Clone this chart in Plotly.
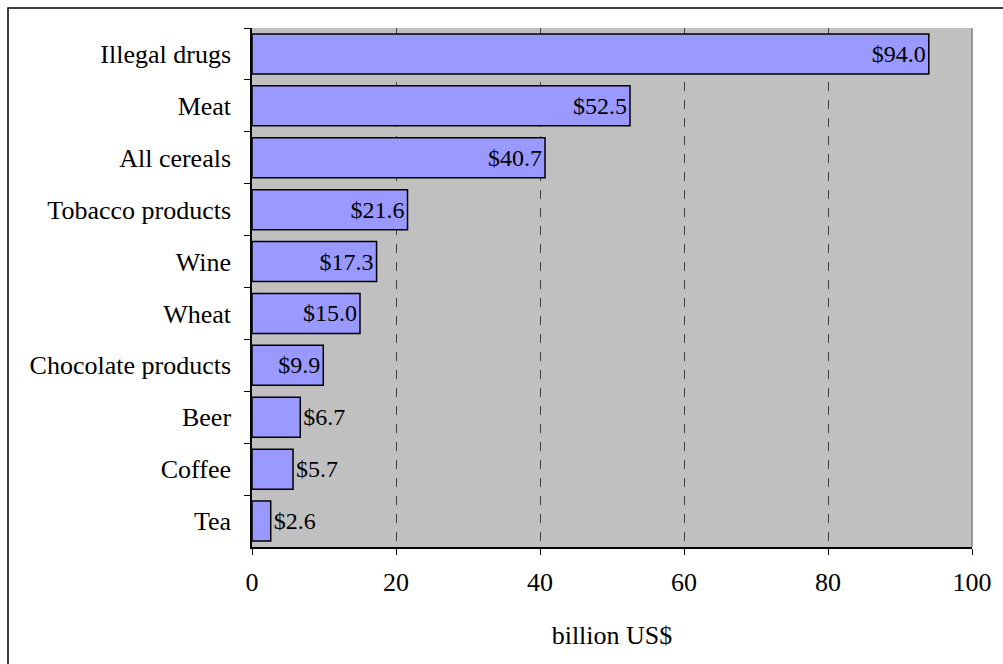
import plotly.graph_objects as go

# Commodity values, largest first (billion US$)
categories = ["Illegal drugs", "Meat", "All cereals", "Tobacco products", "Wine",
              "Wheat", "Chocolate products", "Beer", "Coffee", "Tea"]
values = [94.0, 52.5, 40.7, 21.6, 17.3, 15.0, 9.9, 6.7, 5.7, 2.6]
x_ticks = [0, 20, 40, 60, 80, 100]

labels = [f"${v:.1f}" for v in values]
positions = ["inside" if v >= 9 else "outside" for v in values]

FONT = "Liberation Serif, Times New Roman, serif"
LABEL_SIZE = 24
AXIS_SIZE = 26

fig = go.Figure(
    go.Bar(
        x=values,
        y=categories,
        orientation="h",
        marker=dict(color="#9999FF", line=dict(color="black", width=1.5)),
        text=labels,
        textposition=positions,
        insidetextanchor="end",
        textfont=dict(family=FONT, size=LABEL_SIZE, color="black"),
        insidetextfont=dict(family=FONT, size=LABEL_SIZE, color="black"),
        outsidetextfont=dict(family=FONT, size=LABEL_SIZE, color="black"),
        constraintext="none",
        cliponaxis=False,
    )
)

W, H = 1003, 664
L, R, T, B = 252, 31, 28, 117
pw, ph = W - L - R, H - T - B


def px_to_paper_x(px):
    return (px - L) / pw


def px_to_paper_y(py):
    return (H - B - py) / ph


fig.update_layout(
    width=W,
    height=H,
    margin=dict(l=L, r=R, t=T, b=B),
    paper_bgcolor="white",
    plot_bgcolor="#C0C0C0",
    bargap=0.23,
    showlegend=False,
    font=dict(family=FONT, size=AXIS_SIZE, color="black"),
    xaxis=dict(
        range=[0, 100],
        tickvals=x_ticks,
        ticks="outside",
        ticklen=6,
        tickcolor="black",
        showline=True,
        linecolor="black",
        linewidth=1.5,
        showgrid=True,
        gridcolor="#404040",
        griddash="dash",
        gridwidth=1,
        zeroline=False,
        ticklabelstandoff=5,
        tickfont=dict(family=FONT, size=AXIS_SIZE),
        title=dict(text="billion US$", font=dict(family=FONT, size=AXIS_SIZE), standoff=30),
    ),
    yaxis=dict(
        categoryorder="array",
        categoryarray=categories,
        autorange="reversed",
        ticks="outside",
        tickson="boundaries",
        ticklen=6,
        tickcolor="black",
        showline=True,
        linecolor="black",
        linewidth=1.5,
        showgrid=False,
        ticklabelstandoff=14,
        tickfont=dict(family=FONT, size=AXIS_SIZE),
    ),
    shapes=[
        # right edge of the plotting area
        dict(type="line", xref="paper", yref="paper", x0=1, x1=1, y0=0, y1=1,
             line=dict(color="#808080", width=1.5), layer="above"),
        # outer chart frame
        dict(type="rect", xref="paper", yref="paper",
             x0=px_to_paper_x(8), x1=px_to_paper_x(1010),
             y0=px_to_paper_y(672), y1=px_to_paper_y(8),
             line=dict(color="black", width=1.5), fillcolor="rgba(0,0,0,0)",
             layer="below"),
    ],
)

fig.write_html("out.html")
